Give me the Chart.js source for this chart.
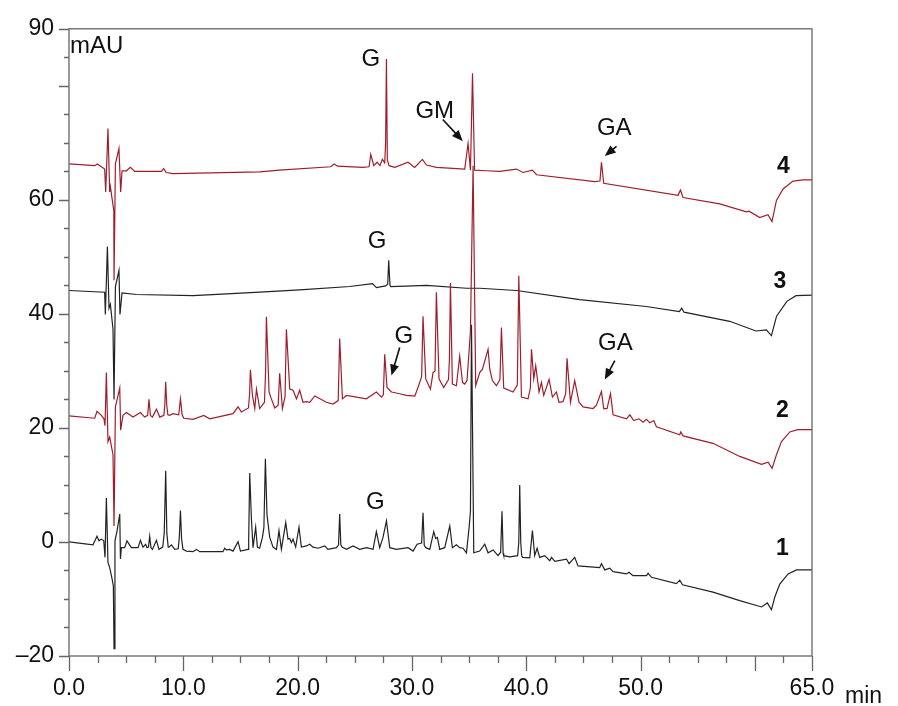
<!DOCTYPE html>
<html>
<head>
<meta charset="utf-8">
<script src="https://cdn.jsdelivr.net/npm/chart.js@4.4.1/dist/chart.umd.min.js"></script>
<style>
  html, body { margin: 0; padding: 0; background: #fff; }
  #wrap { width: 898px; height: 706px; }
</style>
</head>
<body>
<div id="wrap"><canvas id="chart" width="898" height="706"></canvas></div>
<script>
// ---- Data: [time (min), signal (mAU)] ----
const trace4 = [
  [0, 66.3], [2.25, 66.0], [2.48, 66.3], [3.12, 65.4], [3.21, 61.4], [3.41, 72.5], [3.56, 61.4], [3.62, 62.3],
  [3.92, 58.1], [3.94, 45.9], [4.06, 66.3], [4.37, 69.0], [4.52, 61.4], [4.64, 65.1], [5.02, 65.1], [5.37, 65.7],
  [5.75, 65.0], [8.1, 65.0], [8.29, 65.5], [8.5, 64.8], [9.1, 64.6], [16.7, 64.9], [18.4, 65.2], [22.9, 65.8],
  [23.2, 66.3], [23.5, 65.9], [25.7, 65.7], [26.25, 65.8], [26.4, 68.0], [26.66, 66.0], [26.95, 66.6], [27.2, 66.0],
  [27.42, 67.1], [27.62, 66.5], [27.7, 70.0], [27.77, 84.7], [27.85, 67.0], [28.0, 66.0], [28.5, 65.7], [29.66, 66.6],
  [30.24, 65.7], [30.92, 67.1], [31.27, 66.1], [32.14, 65.7], [34.62, 65.4], [34.91, 69.9], [35.12, 65.2], [35.3, 82.2],
  [35.48, 65.2], [36.52, 65.1], [37.68, 65.0], [39.14, 65.4], [39.72, 64.8], [40.54, 65.2], [40.9, 64.4], [45.99, 63.2],
  [46.45, 63.3], [46.58, 66.6], [46.78, 62.9], [53.28, 60.8], [53.49, 61.7], [53.72, 60.4], [56.93, 59.3], [59.26, 57.9],
  [59.49, 58.0], [60.43, 56.9], [61.15, 57.4], [61.5, 56.2], [61.89, 59.9], [62.47, 61.9], [63.34, 63.3], [64.22, 63.5],
  [65, 63.5]
];

const trace3 = [
  [0, 44.1], [3.12, 43.8], [3.18, 39.9], [3.36, 51.8], [3.5, 41.0], [3.62, 41.7], [3.85, 37.3], [3.94, 25.0],
  [4.06, 44.8], [4.37, 47.6], [4.46, 39.9], [4.64, 43.7], [5.9, 43.4], [10.85, 43.2], [16.7, 43.8], [20.18, 44.2],
  [24.56, 44.8], [26.55, 45.3], [26.9, 44.6], [27.7, 44.9], [27.88, 45.2], [27.97, 49.4], [28.08, 45.0], [28.15, 44.8],
  [31.27, 45.0], [34.77, 44.5], [35.93, 44.5], [39.14, 44.1], [44.68, 42.5], [50.5, 41.3], [53.4, 40.4], [53.6, 41.0],
  [53.8, 40.3], [57.8, 38.7], [60.1, 37.0], [61.0, 37.2], [61.45, 36.2], [61.9, 39.6], [62.8, 42.2], [63.6, 43.2],
  [65, 43.3]
];

const trace2 = [
  [0, 22.1], [2.25, 21.7], [2.45, 22.9], [2.83, 22.2], [3.06, 21.6], [3.15, 20.4], [3.27, 29.7], [3.41, 17.6],
  [3.56, 18.4], [3.85, 15.3], [3.94, 2.8], [4.06, 23.7], [4.44, 27.0], [4.52, 19.6], [4.72, 22.2], [5.02, 22.7],
  [5.6, 21.9], [6.25, 22.7], [6.62, 21.9], [6.88, 22.2], [7.0, 25.0], [7.12, 22.2], [7.3, 21.9], [7.65, 23.3],
  [7.94, 21.9], [8.3, 22.2], [8.38, 24.0], [8.46, 28.1], [8.55, 24.0], [8.65, 22.3], [8.81, 22.2], [9.1, 22.5],
  [9.6, 22.3], [9.75, 25.1], [9.9, 22.3], [10.04, 21.7], [10.85, 21.5], [11.79, 22.2], [12.31, 21.6], [14.35, 22.5],
  [14.79, 23.7], [15.08, 22.8], [15.7, 23.5], [15.8, 26.0], [15.87, 30.2], [16.05, 25.7], [16.25, 23.4], [16.4, 26.8],
  [16.68, 23.4], [17.1, 24.5], [17.2, 30.0], [17.27, 39.5], [17.5, 26.3], [17.65, 25.4], [18.0, 23.5], [18.3, 24.0],
  [18.43, 29.6], [18.67, 23.4], [18.9, 25.5], [19.02, 37.3], [19.31, 26.8], [19.6, 26.6], [19.9, 25.1], [20.18, 26.6],
  [20.47, 24.5], [20.77, 24.6], [21.06, 24.5], [21.5, 25.6], [22.52, 24.5], [23.1, 24.2], [23.55, 24.8], [23.68, 35.7],
  [23.92, 25.1], [24.27, 25.7], [26.02, 25.1], [26.89, 26.3], [27.33, 25.4], [27.5, 25.8], [27.62, 32.9], [27.82, 27.1],
  [28.21, 26.3], [28.93, 26.0], [29.52, 25.7], [30.25, 25.6], [30.53, 27.1], [30.85, 29.0], [30.97, 39.6], [31.21, 28.6],
  [31.62, 26.8], [31.85, 29.7], [32.02, 30.0], [32.14, 43.8], [32.37, 28.6], [32.78, 27.1], [33.2, 28.5], [33.28, 32.0],
  [33.37, 45.4], [33.54, 27.7], [33.89, 27.4], [34.18, 32.6], [34.42, 28.0], [34.62, 27.7], [34.82, 28.3], [35.12, 37.0],
  [35.35, 66.0], [35.58, 27.4], [35.93, 29.7], [36.17, 30.3], [36.66, 33.8], [36.81, 30.3], [37.04, 28.3], [37.39, 27.4],
  [37.7, 28.5], [37.83, 37.6], [38.03, 27.0], [38.85, 26.3], [39.22, 27.5], [39.35, 46.7], [39.58, 25.4], [40.16, 25.1],
  [40.36, 27.0], [40.46, 33.8], [40.66, 28.6], [40.83, 30.9], [41.12, 26.3], [41.33, 28.0], [41.53, 25.7], [42.0, 28.5],
  [42.29, 25.4], [42.64, 26.3], [42.87, 24.5], [43.22, 24.6], [43.45, 26.0], [43.57, 32.2], [43.87, 24.5], [44.24, 28.3],
  [44.62, 24.5], [44.97, 23.7], [45.85, 23.4], [46.14, 24.0], [46.58, 26.4], [46.78, 23.4], [47.07, 23.4], [47.37, 26.0],
  [47.6, 22.3], [48.77, 21.6], [49.06, 22.3], [49.41, 21.3], [49.87, 21.6], [50.22, 21.0], [50.52, 21.5], [50.81, 20.9],
  [51.16, 21.3], [51.39, 20.2], [53.43, 18.8], [53.52, 19.3], [53.72, 18.6], [56.34, 17.3], [58.68, 15.0], [60.58, 13.6],
  [61.16, 14.0], [61.51, 12.9], [61.89, 15.3], [62.33, 17.6], [63.06, 19.3], [63.75, 19.7], [65, 19.7]
];

const trace1 = [
  [0, 0.0], [2.1, -0.5], [2.45, 1.0], [2.62, 0.2], [2.83, 0.5], [3.04, 0.2], [3.15, -2.7], [3.27, 7.7],
  [3.41, -3.6], [3.56, -4.5], [3.8, -6.8], [3.88, -7.7], [3.94, -18.7], [4.02, 0.2], [4.2, 1.9], [4.44, 4.9],
  [4.5, -3.0], [4.58, -1.0], [4.87, -1.0], [5.07, 0.2], [5.46, -1.0], [6.04, -1.0], [6.25, 0.3], [6.47, -0.9],
  [6.71, -0.4], [6.82, -1.0], [6.95, -0.9], [7.06, 1.0], [7.17, -1.0], [7.3, -1.3], [7.65, 0.3], [7.87, -1.3],
  [8.2, -0.9], [8.33, 1.5], [8.46, 12.5], [8.56, 1.5], [8.68, -0.9], [8.75, -0.9], [8.96, -0.5], [9.25, -1.3],
  [9.55, -1.2], [9.65, 0.8], [9.75, 5.5], [9.85, 0.5], [9.97, -1.3], [10.27, -1.6], [10.85, -1.7], [11.15, -1.3],
  [11.43, -1.7], [13.47, -1.7], [13.62, -1.1], [13.77, -1.4], [14.06, -1.3], [14.35, -1.6], [14.79, 0.05], [15.0, -1.6],
  [15.66, -1.3], [15.72, 0.5], [15.81, 12.1], [15.96, 4.0], [16.1, -1.0], [16.33, 2.6], [16.48, -0.9], [16.68, -1.1],
  [16.92, 0.8], [17.05, 2.5], [17.18, 14.6], [17.32, 4.8], [17.56, 0.8], [17.85, -0.9], [18.15, -1.3], [18.37, 2.0],
  [18.58, -1.3], [18.96, 3.4], [19.16, 0.5], [19.31, 0.6], [19.46, -0.1], [19.6, 0.5], [19.83, -0.9], [20.12, 2.6],
  [20.33, -0.9], [20.77, -0.7], [21.06, -0.4], [21.35, -0.9], [21.79, -1.1], [22.37, -0.7], [22.66, -1.3], [23.4, -1.0],
  [23.58, -0.5], [23.68, 4.9], [23.78, -0.5], [23.89, -0.9], [24.27, -1.3], [24.85, -0.7], [25.43, -1.3], [26.02, -1.0],
  [26.6, -1.3], [26.89, 1.8], [27.18, -1.0], [27.47, 0.8], [27.77, 3.7], [28.06, -1.0], [28.64, -1.3], [29.66, -1.0],
  [30.1, -1.6], [30.45, -0.4], [30.85, -0.2], [30.97, 5.1], [31.08, -0.6], [31.21, -1.0], [31.56, -1.3], [31.91, 1.8],
  [32.08, 0.6], [32.23, 0.8], [32.43, -1.3], [32.87, -1.0], [33.31, 2.8], [33.54, -1.0], [33.89, -0.5], [34.18, -1.0],
  [34.47, -1.1], [34.77, -1.9], [35.0, 2.5], [35.12, 5.4], [35.21, 38.1], [35.41, -1.9], [35.93, -1.6], [36.37, -0.4],
  [36.66, -1.9], [37.1, -1.4], [37.53, -2.4], [37.76, -1.8], [37.88, 5.4], [37.98, -2.0], [38.03, -2.4], [38.56, -2.6],
  [39.25, -2.4], [39.35, 0.0], [39.43, 10.0], [39.52, 0.0], [39.6, -2.4], [39.67, -2.7], [40.31, -2.8], [40.54, 2.0],
  [40.74, -2.4], [40.95, -1.1], [41.18, -2.7], [41.62, -2.4], [42.06, -3.3], [42.21, -2.7], [42.5, -3.4], [43.52, -3.0],
  [43.75, -3.8], [44.24, -2.7], [44.53, -4.2], [46.43, -4.5], [46.58, -3.8], [46.87, -4.9], [47.31, -4.6], [47.6, -5.2],
  [48.77, -5.6], [48.99, -5.3], [49.34, -5.9], [50.52, -5.9], [50.66, -5.5], [50.96, -6.2], [53.14, -7.3], [53.43, -6.7],
  [53.67, -7.5], [56.34, -8.8], [58.68, -10.3], [60.58, -11.4], [61.1, -10.7], [61.45, -11.9], [61.74, -9.7], [62.18, -7.4],
  [62.91, -5.6], [63.64, -4.9], [65, -4.9]
];

const xLabelValues = [0, 10, 20, 30, 40, 50, 65];
const yLabelValues = [-20, 0, 20, 40, 60, 90];

// peak names, trace numbers and arrows (in axis units)
const peakNotes = [
  { text: 'G', x: 26.4, y: 84.7 },
  { text: 'GM', x: 32.0, y: 75.5 },
  { text: 'GA', x: 47.7, y: 72.5 },
  { text: 'G', x: 26.95, y: 52.7 },
  { text: 'G', x: 29.3, y: 36.0 },
  { text: 'GA', x: 47.8, y: 34.8 },
  { text: 'G', x: 26.8, y: 6.95 }
];
const traceNumbers = [
  { text: '4', x: 62.5, y: 65.9 },
  { text: '3', x: 62.2, y: 45.6 },
  { text: '2', x: 62.4, y: 23.1 },
  { text: '1', x: 62.4, y: -1.2 }
];
const arrows = [
  [32.7, 74.1, 34.45, 70.3],
  [47.9, 69.4, 46.87, 67.7],
  [28.93, 34.1, 28.21, 29.2],
  [47.75, 31.8, 46.87, 28.5]
];

const FONT = "'Liberation Sans', Arial, sans-serif";
const RED = '#a01e2c';
const BLACK = '#222';

function toPoints(trace) {
  return trace.map(p => ({ x: p[0], y: p[1] }));
}

function drawArrow(ctx, x1, y1, x2, y2) {
  const ang = Math.atan2(y2 - y1, x2 - x1);
  const head = 11, half = 4.5;
  ctx.beginPath();
  ctx.moveTo(x1, y1);
  ctx.lineTo(x2 - Math.cos(ang) * head * 0.8, y2 - Math.sin(ang) * head * 0.8);
  ctx.stroke();
  ctx.beginPath();
  ctx.moveTo(x2, y2);
  ctx.lineTo(x2 - Math.cos(ang) * head + Math.sin(ang) * half, y2 - Math.sin(ang) * head - Math.cos(ang) * half);
  ctx.lineTo(x2 - Math.cos(ang) * head - Math.sin(ang) * half, y2 - Math.sin(ang) * head + Math.cos(ang) * half);
  ctx.closePath();
  ctx.fill();
}

// ---- frame, tick marks and labels ----
const overlay = {
  id: 'overlay',
  afterDraw(chart) {
    const { ctx, chartArea: a, scales: { x, y } } = chart;
    ctx.save();
    ctx.strokeStyle = '#666';
    ctx.lineWidth = 1.3;
    ctx.strokeRect(a.left, a.top, a.right - a.left, a.bottom - a.top);

    ctx.beginPath();
    for (let v = -20; v <= 90; v += 5) {
      const py = Math.round(y.getPixelForValue(v)) + 0.5;
      const len = (v % 20 === 0 || v === 90) ? 10 : 5;
      ctx.moveTo(a.left - len, py);
      ctx.lineTo(a.left, py);
    }
    for (let v = 0; v <= 65; v += 2.5) {
      const px = Math.round(x.getPixelForValue(v)) + 0.5;
      const len = (v % 10 === 0 || v === 65) ? 15 : 7;
      ctx.moveTo(px, a.bottom);
      ctx.lineTo(px, a.bottom + len);
    }
    ctx.stroke();

    ctx.fillStyle = '#111';
    ctx.textBaseline = 'alphabetic';
    ctx.textAlign = 'left';
    ctx.font = '24px ' + FONT;
    ctx.fillText('mAU', a.left + 1, a.top + 24);
    ctx.font = '23px ' + FONT;
    ctx.fillText('min', a.right + 33, a.bottom + 47);

    ctx.textAlign = 'center';
    ctx.textBaseline = 'middle';
    ctx.font = '24px ' + FONT;
    peakNotes.forEach(n => ctx.fillText(n.text, x.getPixelForValue(n.x), y.getPixelForValue(n.y)));
    ctx.font = 'bold 23px ' + FONT;
    traceNumbers.forEach(n => ctx.fillText(n.text, x.getPixelForValue(n.x), y.getPixelForValue(n.y)));

    ctx.strokeStyle = '#111';
    ctx.lineWidth = 1.6;
    arrows.forEach(r => drawArrow(ctx,
      x.getPixelForValue(r[0]), y.getPixelForValue(r[1]),
      x.getPixelForValue(r[2]), y.getPixelForValue(r[3])));
    ctx.restore();
  }
};

function lineSet(trace, color) {
  return {
    data: toPoints(trace),
    borderColor: color,
    borderWidth: 1.2,
    pointRadius: 0,
    tension: 0,
    fill: false
  };
}

new Chart(document.getElementById('chart'), {
  type: 'line',
  data: {
    datasets: [
      lineSet(trace4, RED),
      lineSet(trace2, RED),
      lineSet(trace3, BLACK),
      lineSet(trace1, BLACK)
    ]
  },
  options: {
    responsive: false,
    animation: false,
    devicePixelRatio: 1,
    layout: { padding: { top: 23, right: 86, left: 0, bottom: 0 } },
    plugins: { legend: { display: false }, tooltip: { enabled: false } },
    scales: {
      x: {
        type: 'linear', min: 0, max: 65,
        afterBuildTicks: s => { s.ticks = xLabelValues.map(v => ({ value: v })); },
        afterFit: s => { s.height = 50; },
        grid: { display: false, drawTicks: false },
        border: { display: false },
        ticks: {
          autoSkip: false, maxRotation: 0, padding: 19,
          color: '#111', font: { family: FONT, size: 23 },
          callback: v => v.toFixed(1)
        }
      },
      y: {
        type: 'linear', min: -20, max: 90,
        afterBuildTicks: s => { s.ticks = yLabelValues.map(v => ({ value: v })); },
        afterFit: s => { s.width = 69; },
        grid: { display: false, drawTicks: false },
        border: { display: false },
        ticks: {
          autoSkip: false, padding: 15,
          color: '#111', font: { family: FONT, size: 23 },
          callback: v => v < 0 ? '\u2013' + Math.abs(v) : String(v)
        }
      }
    }
  },
  plugins: [overlay]
});
</script>
</body>
</html>
